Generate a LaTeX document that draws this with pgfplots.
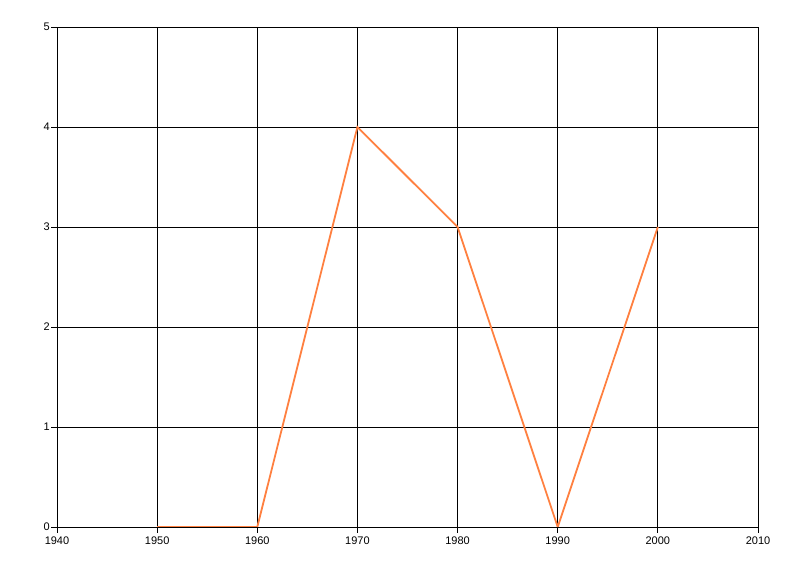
\documentclass[border=0pt]{standalone}
\usepackage{pgfplots}
\pgfplotsset{compat=1.18}
\usepackage{fontspec}
\setmainfont{Liberation Sans}
\definecolor{lineorange}{RGB}{255,128,64}
\begin{document}
\begin{tikzpicture}
\begin{axis}[
    scale only axis,
    width=701bp, height=500bp,
    xmin=1940, xmax=2010, ymin=0, ymax=5,
    xtick={1940,1950,...,2010},
    ytick={0,1,...,5},
    grid=major,
    grid style={black, line width=0.9bp},
    axis line style={black, line width=0.9bp},
    tick align=outside,
    major tick length=6bp,
    tick style={black, line width=0.9bp},
    xtick pos=bottom, ytick pos=left,
    /pgf/number format/1000 sep={},
    /pgf/number format/assume math mode=true,
    ticklabel style={font=\fontsize{11bp}{13bp}\selectfont, inner sep=1bp},
    xticklabel style={yshift=-2.5bp},
]
\addplot[lineorange, line width=1.8bp] coordinates {
    (1950,0) (1960,0) (1970,4) (1980,3) (1990,0) (2000,3)
};
\end{axis}
\pgfresetboundingbox
\useasboundingbox ([shift={(-57bp,-49bp)}]current axis.south west) rectangle ([shift={(42bp,27bp)}]current axis.north east);
\end{tikzpicture}
\end{document}
